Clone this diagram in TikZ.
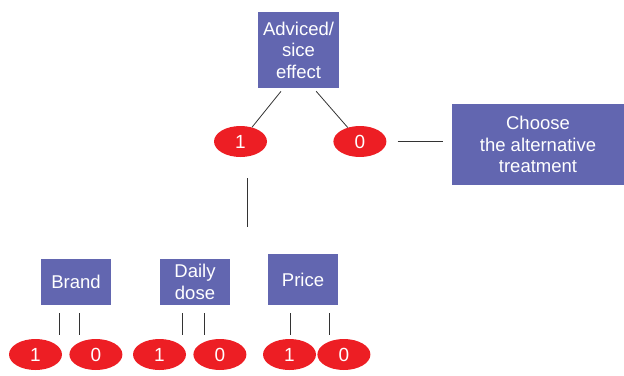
\documentclass[tikz,border=0pt]{standalone}
\usepackage{fontspec}
\setmainfont{Liberation Sans}
\usetikzlibrary{positioning,shapes.geometric}
\definecolor{boxblue}{RGB}{98,102,176}
\definecolor{ovalred}{RGB}{237,30,36}
\tikzset{factor/.style={rectangle,fill=boxblue,text=white,align=center,inner sep=0pt,
                        minimum width=70pt,minimum height=46pt,font=\fontsize{18.5}{21.5}\selectfont},
	 level/.style={ellipse,fill=ovalred,text=white,inner sep=0pt,
                       minimum width=53pt,minimum height=31pt,font=\fontsize{19}{20}\selectfont},
	 link/.style={draw=black!80,line width=0.8pt},
	 node distance = 7pt
	 }

\begin{document}
\begin{tikzpicture}[x=1pt,y=-1pt] % conjoint tree
        \useasboundingbox (0,0) rectangle (624,375);
        \node[factor,minimum width=81pt,minimum height=76pt] (adv) at (298.5,50) {Adviced/\\sice\\effect};
        \node[level] (yes) at (240.5,141.5) {1};
        \node[level] (no) [right=66pt of yes] {0};
        \node[factor,minimum width=172pt,minimum height=81pt] (alt) at (538,144.5) {Choose\\the alternative\\treatment};
        \coordinate (drop) at (247,227);
        \node[factor] (brand) at (76,282) {Brand};
        \node[factor] (dose) at (195,282) {Daily\\dose};
        \node[factor,minimum height=51pt] (price) at (303,279.5) {Price};
        \node[level] (b1) at (35.5,354.5) {1};
        \node[level] (b0) [right=of b1] {0};
        \node[level] (d1) at (159.5,354.5) {1};
        \node[level] (d0) [right=of d1] {0};
        \node[level] (p1) at (289.5,354.5) {1};
        \node[level] (p0) [right=1pt of p1] {0};
        \draw[link,shorten <=4pt] ([xshift=-15pt]adv.south) to (yes);
        \draw[link,shorten <=4pt] ([xshift=15pt]adv.south) to (no);
        \draw[link,shorten <=11pt,shorten >=9pt] (no.east) to (no.east -| alt.west);
        \draw[link,shorten <=21pt] (yes.south -| drop) to (drop);
        \draw[link,shorten <=8pt,shorten >=4pt] ([xshift=-17pt]brand.south) to ([xshift=-17pt]brand.south |- b1.north);
        \draw[link,shorten <=8pt,shorten >=4pt] ([xshift=3pt]brand.south) to ([xshift=3pt]brand.south |- b0.north);
        \draw[link,shorten <=8pt,shorten >=4pt] ([xshift=-13pt]dose.south) to ([xshift=-13pt]dose.south |- d1.north);
        \draw[link,shorten <=8pt,shorten >=4pt] ([xshift=9pt]dose.south) to ([xshift=9pt]dose.south |- d0.north);
        \draw[link,shorten <=8pt,shorten >=4pt] ([xshift=-13pt]price.south) to ([xshift=-13pt]price.south |- p1.north);
        \draw[link,shorten <=8pt,shorten >=4pt] ([xshift=26pt]price.south) to ([xshift=26pt]price.south |- p0.north);
\end{tikzpicture}
\end{document}
